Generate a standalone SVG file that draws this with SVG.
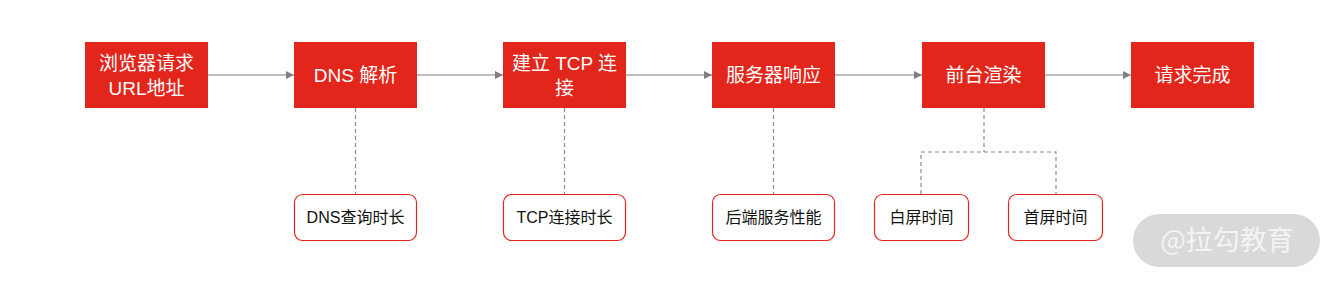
<svg xmlns="http://www.w3.org/2000/svg" width="1339" height="284" viewBox="0 0 1339 284">
<defs>
<style>
.box{fill:#e2261c;}
.sub{fill:#ffffff;stroke:#e2261c;stroke-width:1.2;}
.t{font-family:"Liberation Sans","Noto Sans CJK SC",sans-serif;font-size:19px;fill:#ffffff;text-anchor:middle;}
.s{font-family:"Liberation Sans","Noto Sans CJK SC",sans-serif;font-size:16px;fill:#111111;text-anchor:middle;}
.arr{stroke:#7f7f7f;stroke-width:1.2;fill:none;marker-end:url(#ah);}
.dash{stroke:#8c8c8c;stroke-width:1.2;fill:none;stroke-dasharray:4 3;}
</style>
<marker id="ah" viewBox="0 0 10 10" refX="10" refY="5" markerWidth="8" markerHeight="8" markerUnits="userSpaceOnUse" orient="auto">
<path d="M0,0 L10,5 L0,10 z" fill="#7f7f7f"/>
</marker>
</defs>
<rect width="1339" height="284" fill="#ffffff"/>
<g id="connectors">
<line class="arr" x1="208" y1="75" x2="294" y2="75"/>
<line class="arr" x1="417" y1="75" x2="503" y2="75"/>
<line class="arr" x1="626" y1="75" x2="712" y2="75"/>
<line class="arr" x1="835" y1="75" x2="922" y2="75"/>
<line class="arr" x1="1045" y1="75" x2="1131" y2="75"/>
<line class="dash" x1="355.5" y1="108" x2="355.5" y2="194"/>
<line class="dash" x1="564.5" y1="108" x2="564.5" y2="194"/>
<line class="dash" x1="773.5" y1="108" x2="773.5" y2="194"/>
<path class="dash" d="M984,108 V152 M921,194 V152 H1056 V194"/>
</g>
<g id="n1"><rect class="box" x="85" y="42" width="123" height="66"/><text class="t" x="146.5" y="70">浏览器请求</text><text class="t" x="146.5" y="95">URL地址</text></g>
<g id="n2"><rect class="box" x="294" y="42" width="123" height="66"/><text class="t" x="355.5" y="82">DNS 解析</text></g>
<g id="n3"><rect class="box" x="503" y="42" width="123" height="66"/><text class="t" x="564.5" y="70">建立 TCP 连</text><text class="t" x="564.5" y="95">接</text></g>
<g id="n4"><rect class="box" x="712" y="42" width="123" height="66"/><text class="t" x="773.5" y="82">服务器响应</text></g>
<g id="n5"><rect class="box" x="922" y="42" width="123" height="66"/><text class="t" x="983.5" y="82">前台渲染</text></g>
<g id="n6"><rect class="box" x="1131" y="42" width="123" height="66"/><text class="t" x="1192.5" y="82">请求完成</text></g>
<g id="s1"><rect class="sub" x="294.5" y="194.5" width="122" height="46" rx="8"/><text class="s" x="355.5" y="223">DNS查询时长</text></g>
<g id="s2"><rect class="sub" x="503.5" y="194.5" width="122" height="46" rx="8"/><text class="s" x="564.5" y="223">TCP连接时长</text></g>
<g id="s3"><rect class="sub" x="712.5" y="194.5" width="122" height="46" rx="8"/><text class="s" x="773.5" y="223">后端服务性能</text></g>
<g id="s4"><rect class="sub" x="874.5" y="194.5" width="94" height="46" rx="8"/><text class="s" x="921.5" y="223">白屏时间</text></g>
<g id="s5"><rect class="sub" x="1008.5" y="194.5" width="94" height="46" rx="8"/><text class="s" x="1055.5" y="223">首屏时间</text></g>
<g id="watermark"><rect x="1133" y="214" width="187" height="53" rx="26.5" fill="#d9d9d9"/><text x="1227" y="250" font-family="'Noto Sans CJK SC',sans-serif" font-size="27" fill="#f4f4f4" text-anchor="middle">@拉勾教育</text></g>
</svg>
